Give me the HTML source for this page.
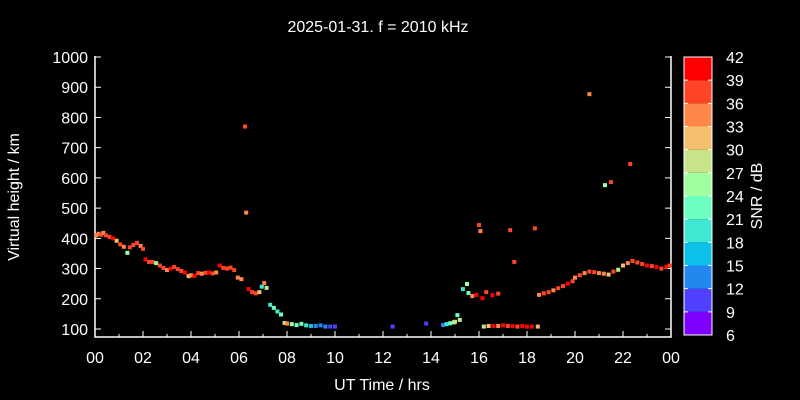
<!DOCTYPE html>
<html><head><meta charset="utf-8"><style>
body{margin:0;background:#000;}
svg{display:block;font-family:"Liberation Sans",sans-serif;}
</style></head><body>
<svg id="c" width="800" height="400" viewBox="0 0 800 400">
<rect width="800" height="400" fill="#000"/>
<text x="378" y="32" fill="#fff" font-size="16" text-anchor="middle">2025-01-31. f = 2010 kHz</text>
<text x="382" y="390" fill="#fff" font-size="16" text-anchor="middle">UT Time / hrs</text>
<text transform="translate(19,197) rotate(-90)" fill="#fff" font-size="16" text-anchor="middle">Virtual height / km</text>
<text transform="translate(762,196) rotate(-90)" fill="#fff" font-size="16" text-anchor="middle">SNR / dB</text>
<g id="axes"></g><g id="pts"></g><g id="cb"></g>
</svg>
<script>
const xTicks=["00","02","04","06","08","10","12","14","16","18","20","22","00"];
const yTicks=[100,200,300,400,500,600,700,800,900,1000];
const cbTicks=[6,9,12,15,18,21,24,27,30,33,36,39,42];
const cbColors=["#8000ff","#5040ff","#2288f0","#0cc0e8","#40e8d4","#6cffc0","#a0ffa0","#c8e488","#f4c070","#ff8848","#ff4428","#ff0000"];
const times=[
0.05,0.15,0.25,0.35,0.45,0.6,0.75,0.9,1.05,1.2,1.35,1.45,1.6,1.75,1.9,2.0,2.1,2.25,2.4,2.55,2.7,2.85,3.0,3.15,3.3,3.45,3.6,3.75,3.9,4.0,4.15,4.3,4.45,4.6,4.75,4.9,5.05,5.2,5.35,5.5,5.65,5.8,5.95,6.1,6.25,6.3,6.4,6.55,6.7,6.85,6.95,7.05,7.15,7.3,7.45,7.6,7.75,7.9,8.0,8.2,8.4,8.6,8.8,9.0,9.2,9.4,9.6,9.8,10.0,
12.4,13.8,14.5,14.65,14.8,14.95,15.0,15.1,15.2,
15.33,15.5,15.56,15.72,15.89,16.0,16.06,16.14,16.3,16.56,16.8,
16.2,16.4,16.6,16.8,17.0,17.2,17.4,17.6,17.8,18.0,18.2,18.45,
17.3,17.47,18.33,
18.5,18.7,18.9,19.1,19.3,19.5,19.7,19.9,20.0,20.2,20.4,20.6,20.8,21.0,21.2,21.4,21.6,21.8,22.0,22.2,22.4,22.6,22.8,23.0,23.2,23.4,23.6,23.8,23.95,
20.6,21.25,21.5,22.3];
const heights=[
410,415,412,418,410,405,400,392,380,372,352,370,378,385,375,365,330,322,322,318,310,302,295,300,305,298,292,287,275,278,276,285,283,286,287,284,287,310,302,300,303,295,270,265,770,485,232,222,218,222,240,252,236,180,170,158,148,120,118,116,113,117,112,110,110,112,108,108,108,
108,118,113,116,119,122,124,146,130,
232,249,219,209,213,444,424,202,222,212,217,
108,110,110,110,112,110,110,108,110,108,108,108,
427,322,433,
213,218,222,228,235,242,250,258,270,278,285,290,288,285,283,280,290,296,310,318,325,320,315,310,308,305,300,306,310,
877,576,586,646];
const snrs=[
34,33,38,35,38,36,40,32,38,34,25,36,37,38,34,36,40,38,36,26,37,36,34,40,36,38,36,40,32,34,40,36,34,38,40,37,33,40,38,36,38,36,34,33,38,35,40,38,37,30,20,33,28,20,22,18,21,27,33,24,22,21,18,16,14,12,14,11,11,
10,10,13,18,22,26,27,22,27,
20,24,23,33,40,36,33,40,36,40,36,
29,32,40,33,40,36,40,38,40,41,40,32,
36,38,37,
33,38,36,34,38,37,40,38,33,38,34,37,36,34,33,30,38,28,30,33,36,37,38,39,36,40,38,40,36,
33,25,38,38];
const X0=95,X1=671,Y0=337;
const xs=t=>X0+(X1-X0)*t/24;
const ys=h=>329-(h-100)*272/900;
const NS="http://www.w3.org/2000/svg";
function mk(tag,at,parent){const e=document.createElementNS(NS,tag);for(const k in at)e.setAttribute(k,at[k]);parent.appendChild(e);return e;}
const ax=document.getElementById('axes');
let l=mk('path',{d:`M${X0},56V${Y0}H${X1}V56`,stroke:'#fff','stroke-width':1.5,fill:'none'},ax);


xTicks.forEach((s,i)=>{const x=xs(i*2);
 let t=mk('line',{x1:x,x2:x,y1:Y0,y2:Y0-6,stroke:'#fff'},ax);
 
 
 if(i<12){let m=mk('line',{x1:xs(i*2+1),x2:xs(i*2+1),y1:Y0,y2:Y0-3,stroke:'#fff'},ax);
 
 }
 let tx=mk('text',{x:x,y:363,fill:'#fff','font-size':16,'text-anchor':'middle'},ax);tx.textContent=s;
 
 
});
yTicks.forEach(v=>{const y=ys(v);
 let t=mk('path',{d:`M${X0},${y}h6M${X1},${y}h-6`,stroke:'#fff'},ax);
 
 
 let tx=mk('text',{x:88,y:y+6,fill:'#fff','font-size':16,'text-anchor':'end'},ax);tx.textContent=v;
 
 
});
const pg=document.getElementById('pts');
function col(s){let i=Math.floor((s-6)/3);i=Math.max(0,Math.min(11,i));return cbColors[i];}
times.forEach((t,i)=>{
 let r=mk('rect',{x:xs(t)-2,y:ys(heights[i])-2,width:4,height:4,fill:col(snrs[i])},pg);
 
 
});
const cb=document.getElementById('cb');
const CT=57,CB=335,CX=684,CW=28,bh=(CB-CT)/12;
cbColors.forEach((c,i)=>{
 let r=mk('rect',{x:CX,y:CB-(i+1)*bh,width:CW,height:bh,fill:c},cb);
 
 
});
let bd=mk('rect',{x:CX,y:CT,width:CW,height:CB-CT,fill:'none',stroke:'#fff'},cb);


cbTicks.forEach((v,i)=>{const y=CB-i*bh;
 let t=mk('path',{d:`M${CX},${y}h4M${CX+CW},${y}h-4`,stroke:'#fff'},cb);
 
 
 let tx=mk('text',{x:726,y:y+6,fill:'#fff','font-size':16},cb);tx.textContent=v;
 
 
});
</script>
</body></html>
